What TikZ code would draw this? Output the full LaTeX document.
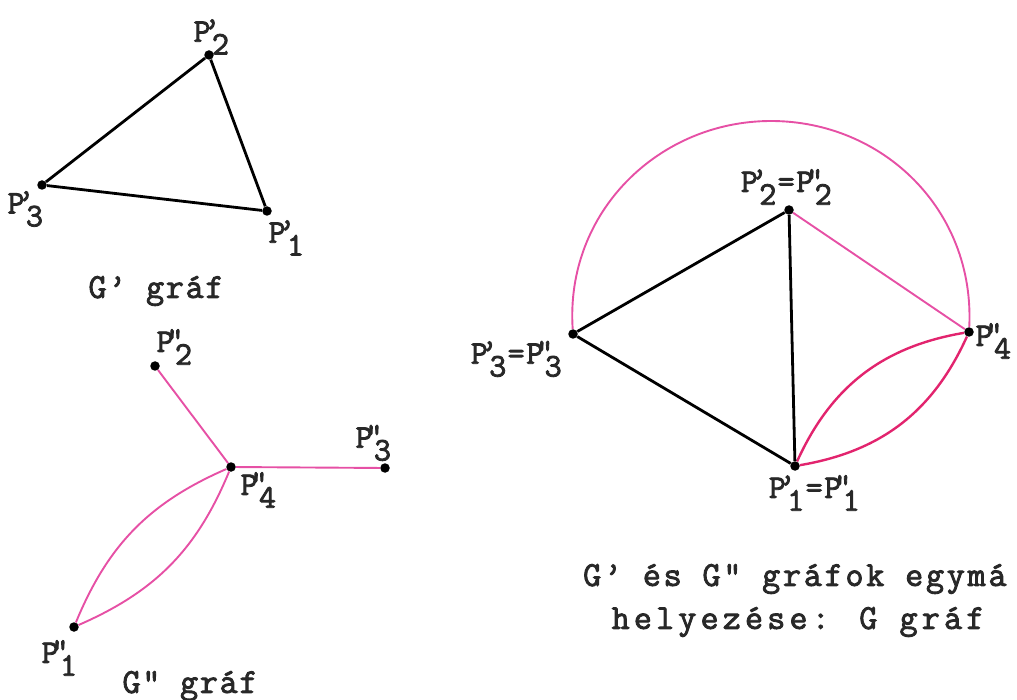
\documentclass[tikz,border=0pt]{standalone}
\usepackage{fontspec}
\setmonofont{Latin Modern Mono}
\newfontfamily\twA{Latin Modern Mono}[LetterSpace=5,FakeBold=2.5]
\newfontfamily\twC{Latin Modern Mono}[LetterSpace=8,FakeBold=2.5]
\newfontfamily\twB{Latin Modern Mono}[LetterSpace=12,FakeBold=2.5]
\definecolor{mag}{RGB}{230,80,165}
\definecolor{lensred}{RGB}{226,36,110}
\definecolor{ink}{RGB}{40,40,40}
\newcommand\pl[2]{P\makebox[0.6em][c]{\makebox[0pt][c]{\raisebox{0.15ex}{#1}}\raisebox{-0.9ex}{#2}}}
\tikzset{
  dot/.style={circle,fill=black,inner sep=0pt,minimum size=9.5pt},
  blk/.style={line width=2.8pt,black},
  pnk/.style={line width=1.9pt,color=mag},
  lens/.style={line width=2.4pt,color=lensred},
  lbl/.style={font=\twA\fontsize{33}{33}\selectfont,inner sep=0pt,text=ink},
  captxt/.style={font=\twA\fontsize{35}{35}\selectfont,inner sep=0pt,text=ink},
  captxtc/.style={font=\twC\fontsize{35}{35}\selectfont,inner sep=0pt,text=ink},
  captxtw/.style={font=\twB\fontsize{35}{35}\selectfont,inner sep=0pt,text=ink},
}
\begin{document}
\begin{tikzpicture}[x=1pt,y=-1pt]
\useasboundingbox (0,0) rectangle (1017,700);
\clip (0,0) rectangle (1017,700);
% G' graph
\node[dot] (A2) at (209,55) {};
\node[dot] (A3) at (42,185) {};
\node[dot] (A1) at (267,211) {};
\draw[blk] (A3) -- (A2) -- (A1) -- (A3);
\node[lbl] (lA2) at (212,37) {\pl{’}{2}};
\node[lbl] (lA3) at (26,209) {\pl{’}{3}};
\node[lbl] (lA1) at (287,238) {\pl{’}{1}};
\node[captxt] (tA) at (156,291) {G’ gráf};
% G'' graph
\node[dot] (B2) at (155,366) {};
\node[dot] (B4) at (231,467) {};
\node[dot] (B3) at (385,468) {};
\node[dot] (B1) at (74,627) {};
\draw[pnk] (B2) -- (B4) -- (B3);
\draw[pnk] (B1) to[bend left=22] (B4);
\draw[pnk] (B1) to[bend right=22] (B4);
\node[lbl] (lB2) at (175,347) {\pl{"}{2}};
\node[lbl] (lB3) at (374,443) {\pl{"}{3}};
\node[lbl] (lB4) at (259,490) {\pl{"}{4}};
\node[lbl] (lB1) at (60,658) {\pl{"}{1}};
\node[captxt] (tB) at (190,686) {G" gráf};
% G graph
\node[dot] (C2) at (789,210) {};
\node[dot] (C3) at (573,334) {};
\node[dot] (C4) at (969,332) {};
\node[dot] (C1) at (795,466) {};
\coordinate (top) at (771,121);
\draw[pnk] (C3) .. controls +(-8,-122) and +(-112,0) .. (top) .. controls +(112,0) and +(6,-122) .. (C4);
\draw[pnk] (C2) -- (C4);
\draw[lens] (C1) to[bend left=28] (C4);
\draw[lens] (C1) to[bend right=28] (C4);
\draw[blk] (C3) -- (C2) -- (C1) -- (C3);
\node[lbl] (lC2) at (787,187) {\pl{’}{2}=\pl{"}{2}};
\node[lbl] (lC3) at (517,359) {\pl{’}{3}=\pl{"}{3}};
\node[lbl] (lC4) at (994,341) {\pl{"}{4}};
\node[lbl] (lC1) at (815,493) {\pl{’}{1}=\pl{"}{1}};
\node[captxtc,anchor=west] (tC1) at (583,579) {G’ és G" gráfok egymá};
\node[captxtw] (tC2) at (798,622) {helyezése: G gráf};
\end{tikzpicture}
\end{document}
